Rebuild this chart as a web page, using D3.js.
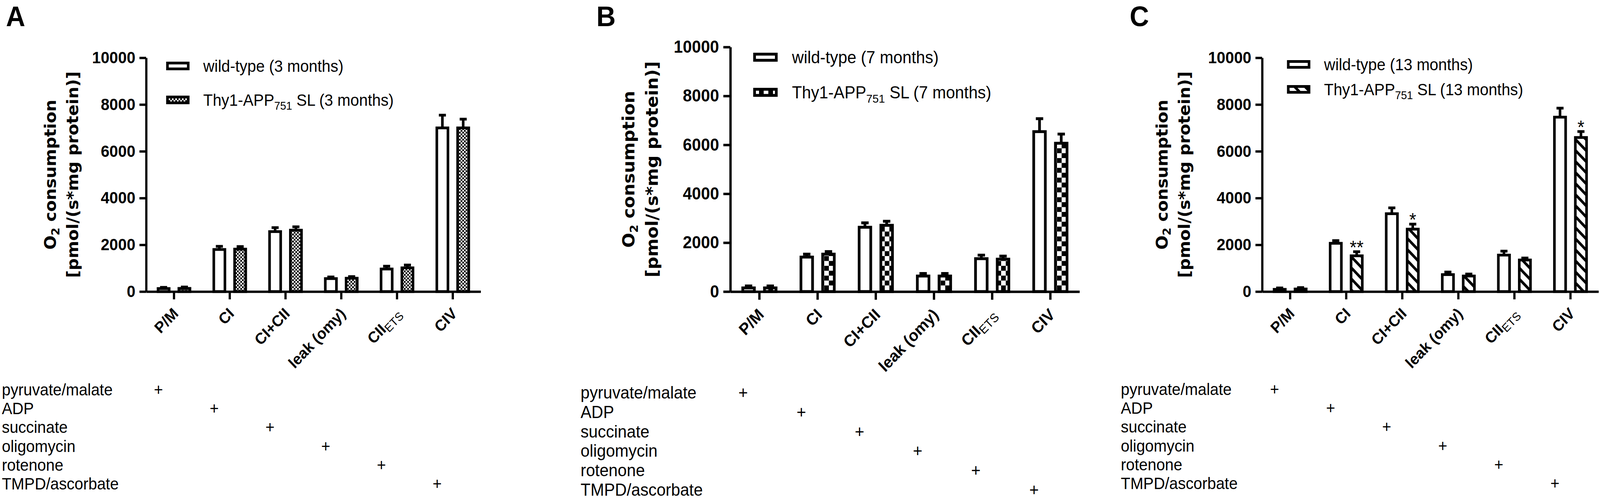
<!DOCTYPE html>
<html>
<head>
<meta charset="utf-8">
<title>O2 consumption, wild-type vs Thy1-APP751 SL</title>
<script src="https://cdn.jsdelivr.net/npm/d3@7"></script>
<style>
  html, body { margin: 0; padding: 0; width: 100%; height: 100%; overflow: hidden; background: #fff; }
  #fig { display: block; width: 100vw; height: 100vh; }
  text { font-family: "Liberation Sans", Arial, sans-serif; fill: #000; }
</style>
</head>
<body>
<svg id="fig" viewBox="0 0 4314 1281" preserveAspectRatio="none"></svg>
<script>
// ---- data ----
var categories = ["P/M", "CI", "CI+CII", "leak (omy)", "CII_ETS", "CIV"];
var yTicks = [0, 2000, 4000, 6000, 8000, 10000];
var treatments = ["pyruvate/malate", "ADP", "succinate", "oligomycin", "rotenone", "TMPD/ascorbate"];
var ages = ["3", "7", "13"];

var wtA = [130, 1800, 2565, 555, 965, 7000];
var wtA_sem = [50, 135, 170, 70, 120, 545];
var tgA = [135, 1815, 2625, 570, 1015, 7000];
var tgA_sem = [60, 110, 145, 70, 120, 375];

var wtB = [150, 1410, 2630, 635, 1345, 6540];
var wtB_sem = [80, 120, 180, 105, 145, 530];
var tgB = [150, 1530, 2710, 635, 1325, 6065];
var tgB_sem = [80, 105, 165, 105, 125, 375];

var wtC = [95, 2065, 3330, 725, 1560, 7460];
var wtC_sem = [60, 115, 250, 110, 170, 385];
var tgC = [110, 1530, 2670, 665, 1350, 6590];
var tgC_sem = [60, 175, 215, 85, 85, 255];
var starsC = ["", "**", "*", "", "", "*"];

// ---- layout (local panel coords, panel B is drawn slightly scaled) ----
var AX = 394, Y0 = 747, YTOP = 148;
var panels = [
  {id: "A", age: ages[0], wt: wtA, wtE: wtA_sem, tg: tgA, tgE: tgA_sem, stars: null,
   pattern: "checkFine", tx: 0, s: 1, axisEnd: 1296, letterX: 16,
   legendX: 448, legendY: [169, 256], titleDx: 0, tableX: 5, tableY: 1013, tableDy: 48.2},
  {id: "B", age: ages[1], wt: wtB, wtE: wtB_sem, tg: tgB, tgE: tgB_sem, stars: null,
   pattern: "checkBig", tx: 1557, s: 1.046, axisEnd: 1294, letterX: 1608,
   legendX: 453, legendY: [173, 259], titleDx: -4, tableX: 8, tableY: 1009, tableDy: 47.6},
  {id: "C", age: ages[2], wt: wtC, wtE: wtC_sem, tg: tgC, tgE: tgC_sem, stars: starsC,
   pattern: "stripe", tx: 3009, s: 1, axisEnd: 1301, letterX: 3046,
   legendX: 461, legendY: [165, 229], titleDx: -12, tableX: 13, tableY: 1012, tableDy: 48.2}
];

var svg = d3.select("#fig");
svg.append("rect").attr("width", 4314).attr("height", 1281).attr("fill", "#fff");

// ---- fill patterns ----
var defs = svg.append("defs");
function checker(id, c) {
  var p = defs.append("pattern").attr("id", id)
    .attr("patternUnits", "userSpaceOnUse")
    .attr("width", 2 * c).attr("height", 2 * c);
  p.append("rect").attr("width", 2 * c).attr("height", 2 * c).attr("fill", "#fff");
  p.append("rect").attr("width", c).attr("height", c).attr("fill", "#000");
  p.append("rect").attr("x", c).attr("y", c).attr("width", c).attr("height", c).attr("fill", "#000");
}
checker("checkFine", 4.5);
checker("checkBig", 12);
var st = defs.append("pattern").attr("id", "stripe")
  .attr("patternUnits", "userSpaceOnUse")
  .attr("width", 20).attr("height", 20)
  .attr("patternTransform", "rotate(-45)");
st.append("rect").attr("width", 20).attr("height", 20).attr("fill", "#fff");
st.append("rect").attr("width", 7).attr("height", 20).attr("fill", "#000");

function drawPanel(p) {
  var g = svg.append("g")
    .attr("transform", "translate(" + p.tx + "," + (Y0 * (1 - p.s)) + ") scale(" + p.s + ")");

  var x = d3.scaleBand().domain(categories).range([AX, p.axisEnd]).paddingInner(0).paddingOuter(0);
  var x1 = d3.scaleBand().domain(["wt", "tg"]).range([0, x.bandwidth()])
    .paddingInner(0.34).paddingOuter(0.51);
  var y = d3.scaleLinear().domain([0, 10000]).range([Y0, YTOP]);

  var series = [
    {k: "wt", vals: p.wt, errs: p.wtE, fill: "#fff",
     label: ["wild-type (" + p.age + " months)"]},
    {k: "tg", vals: p.tg, errs: p.tgE, fill: "url(#" + p.pattern + ")",
     label: ["Thy1-APP", "751", " SL (" + p.age + " months)"]}
  ];

  series.forEach(function(s) {
    var rows = categories.map(function(c, i) { return {c: c, i: i, v: s.vals[i], e: s.errs[i]}; });
    var cx = function(d) { return x(d.c) + x1(s.k) + x1.bandwidth() / 2; };
    var eg = g.append("g").attr("stroke", "#000").attr("stroke-width", 7);
    eg.selectAll("line.v").data(rows).join("line").attr("class", "v")
      .attr("x1", cx).attr("x2", cx)
      .attr("y1", function(d) { return y(d.v); })
      .attr("y2", function(d) { return y(d.v + d.e); });
    eg.selectAll("line.cap").data(rows).join("line").attr("class", "cap")
      .attr("x1", function(d) { return cx(d) - 9.5; })
      .attr("x2", function(d) { return cx(d) + 9.5; })
      .attr("y1", function(d) { return y(d.v + d.e); })
      .attr("y2", function(d) { return y(d.v + d.e); });
    g.append("g").selectAll("rect").data(rows).join("rect")
      .attr("x", function(d) { return x(d.c) + x1(s.k) + 3.5; })
      .attr("width", x1.bandwidth() - 7)
      .attr("y", function(d) { return y(d.v); })
      .attr("height", function(d) { return y(0) - y(d.v); })
      .attr("fill", s.fill).attr("stroke", "#000").attr("stroke-width", 7);

    if (s.k === "tg" && p.stars) {
      g.append("g").selectAll("text").data(rows.filter(function(d) { return p.stars[d.i]; }))
        .join("text")
        .attr("x", cx).attr("y", function(d) { return y(d.v + d.e) + 5; })
        .attr("text-anchor", "middle").style("font-size", "48px")
        .text(function(d) { return p.stars[d.i]; });
    }
  });

  // axes
  var ya = g.append("g").attr("transform", "translate(" + AX + ",0)")
    .call(d3.axisLeft(y).tickValues(yTicks).tickSize(18).tickPadding(11).tickSizeOuter(0)
      .tickFormat(d3.format("d")));
  var xa = g.append("g").attr("transform", "translate(0," + Y0 + ")")
    .call(d3.axisBottom(x).tickSize(20).tickSizeOuter(0).tickFormat(""));
  [ya, xa].forEach(function(a) {
    a.selectAll("path, line").attr("stroke", "#000").attr("stroke-width", 6);
    a.selectAll("text").style("font-size", "42px").style("font-weight", "bold")
      .style("font-family", "'Liberation Sans', Arial, sans-serif").attr("fill", "#000");
  });

  // rotated category labels
  g.append("g").selectAll("text").data(categories).join("text")
    .attr("transform", function(c) {
      return "translate(" + (x(c) + x.bandwidth() / 2 + 14) + ",806) rotate(-45)";
    })
    .attr("text-anchor", "end").style("font-size", "40px").style("font-weight", "bold")
    .each(function(c) {
      var t = d3.select(this);
      if (c.indexOf("_") >= 0) {
        var parts = c.split("_");
        t.append("tspan").text(parts[0]);
        t.append("tspan").attr("dy", 8).style("font-size", "30px").style("font-weight", "normal")
          .text(parts[1]);
      } else {
        t.text(c);
      }
    });

  // y title
  var tx0 = AX + p.titleDx, cy = (Y0 + YTOP) / 2;
  var t1 = g.append("text").attr("transform", "translate(" + (tx0 - 243) + "," + cy + ") rotate(-90)")
    .attr("text-anchor", "middle")
    .style("font-family", "'DejaVu Sans', sans-serif").style("font-weight", "bold").style("font-size", "43px");
  t1.append("tspan").text("O");
  t1.append("tspan").attr("dy", 9).style("font-size", "29px").text("2");
  t1.append("tspan").attr("dy", -9).text(" consumption");
  g.append("text").attr("transform", "translate(" + (tx0 - 183) + "," + cy + ") rotate(-90)")
    .attr("text-anchor", "middle")
    .style("font-family", "'DejaVu Sans', sans-serif").style("font-weight", "bold").style("font-size", "43px")
    .text("[pmol/(s*mg protein)]");

  // legend
  series.forEach(function(s, i) {
    var ry = p.legendY[i];
    g.append("rect").attr("x", p.legendX + 3.5).attr("y", ry - 7.5)
      .attr("width", 56).attr("height", 15)
      .attr("fill", s.fill).attr("stroke", "#000").attr("stroke-width", 7);
    var lt = g.append("text").attr("x", p.legendX + 100).attr("y", ry + 15).style("font-size", "42px");
    lt.append("tspan").text(s.label[0]);
    if (s.label.length > 1) {
      lt.append("tspan").attr("dy", 10).style("font-size", "29px").text(s.label[1]);
      lt.append("tspan").attr("dy", -10).text(s.label[2]);
    }
  });

  // treatment table
  var tb = g.append("g").style("font-size", "42px");
  treatments.forEach(function(name, i) {
    var by = p.tableY + p.tableDy * i;
    tb.append("text").attr("x", p.tableX).attr("y", by).text(name);
    tb.append("text").attr("x", x(categories[i]) + x.bandwidth() / 2 - 42).attr("y", by)
      .attr("text-anchor", "middle").text("+");
  });

  // panel letter
  svg.append("text").attr("x", p.letterX).attr("y", 67)
    .style("font-size", "72px").style("font-weight", "bold").text(p.id);
}

panels.forEach(drawPanel);
</script>
</body>
</html>
